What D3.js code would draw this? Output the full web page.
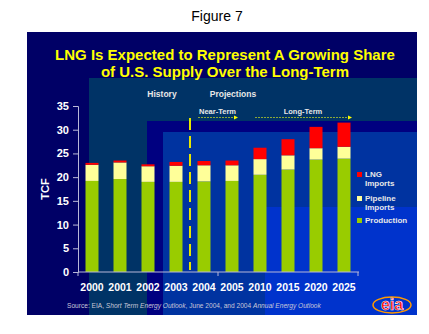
<!DOCTYPE html>
<html>
<head>
<meta charset="utf-8">
<script src="https://cdn.jsdelivr.net/npm/d3@7"></script>
<style>
  body { margin: 0; background: #fff; }
  svg { display: block; font-family: "Liberation Sans", Arial, sans-serif; }
</style>
</head>
<body>
<svg id="chart" width="429" height="334"></svg>
<script>
// chart data (TCF)
var years = ["2000", "2001", "2002", "2003", "2004", "2005", "2010", "2015", "2020", "2025"];
var production = [19.2, 19.6, 19.0, 19.0, 19.1, 19.2, 20.5, 21.6, 23.7, 23.9];
var pipelineImports = [3.4, 3.5, 3.3, 3.4, 3.4, 3.3, 3.3, 3.0, 2.4, 2.5];
var lngImports = [0.4, 0.4, 0.4, 0.8, 0.9, 1.0, 2.4, 3.4, 4.5, 5.1];
var yTicks = [0, 5, 10, 15, 20, 25, 30, 35];
var seriesKeys = ["production", "pipeline", "lng"];
var seriesColors = {production: "#99CC00", pipeline: "#FFFF99", lng: "#FF0000"};
var legendItems = [
  {key: "lng", lines: ["LNG", "Imports"]},
  {key: "pipeline", lines: ["Pipeline", "Imports"]},
  {key: "production", lines: ["Production"]}
];

var svg = d3.select("#chart");

// page caption
svg.append("text")
  .attr("x", 217).attr("y", 21)
  .attr("text-anchor", "middle")
  .attr("font-size", 14)
  .attr("fill", "#000")
  .text("Figure 7");

// slide background, layered rectangles
var bg = svg.append("g").attr("id", "background");
bg.append("rect").attr("x", 27).attr("y", 32).attr("width", 390).attr("height", 283).attr("fill", "#000066");
bg.append("rect").attr("x", 89).attr("y", 78).attr("width", 328).attr("height", 237).attr("fill", "#003366");
bg.append("rect").attr("x", 147).attr("y", 121).attr("width", 270).attr("height", 194).attr("fill", "#000080");
bg.append("rect").attr("x", 163).attr("y", 132).attr("width", 254).attr("height", 183).attr("fill", "#0033A0");
bg.append("rect").attr("x", 265).attr("y", 207).attr("width", 152).attr("height", 108).attr("fill", "#0033CC");

// title
var title = svg.append("text")
  .attr("text-anchor", "middle")
  .attr("font-size", 15)
  .attr("font-weight", "bold")
  .attr("fill", "#FFFF00");
title.append("tspan").attr("x", 225).attr("y", 60).text("LNG Is Expected to Represent A Growing Share");
title.append("tspan").attr("x", 225).attr("y", 77).text("of U.S. Supply Over the Long-Term");

// scales
var x = d3.scaleBand()
  .domain(years)
  .range([78, 358])
  .paddingInner(15 / 28)
  .paddingOuter(15 / 56);

var y = d3.scaleLinear()
  .domain([0, 35])
  .range([272, 106]);

var rows = years.map(function(yr, i) {
  return {year: yr, production: production[i], pipeline: pipelineImports[i], lng: lngImports[i]};
});
var stacked = d3.stack().keys(seriesKeys)(rows);

// bars
var barsG = svg.append("g").attr("id", "bars");
barsG.selectAll("g.series")
  .data(stacked)
  .enter().append("g")
  .attr("class", "series")
  .attr("fill", function(d) { return seriesColors[d.key]; })
  .selectAll("rect")
  .data(function(d) { return d; })
  .enter().append("rect")
  .attr("x", function(d) { return x(d.data.year); })
  .attr("y", function(d) { return y(d[1]); })
  .attr("width", x.bandwidth())
  .attr("height", function(d) { return y(d[0]) - y(d[1]); });

// history / projection divider
svg.append("line")
  .attr("x1", 190).attr("x2", 190)
  .attr("y1", 118).attr("y2", 270)
  .attr("stroke", "#E6E600")
  .attr("stroke-width", 2)
  .attr("stroke-dasharray", "12,6");

// y axis
var yAxis = svg.append("g")
  .attr("transform", "translate(78,0)")
  .call(d3.axisLeft(y).tickValues(yTicks).tickSize(5).tickPadding(4));
yAxis.select(".domain").attr("stroke", "#B8B8D8");
yAxis.selectAll(".tick line").attr("stroke", "#B8B8D8");
yAxis.selectAll(".tick text")
  .attr("fill", "#FFFFFF")
  .attr("font-size", 11)
  .attr("font-weight", "bold")
  .attr("font-family", "Liberation Sans, Arial, sans-serif");

// x axis: ticks only every 5 categories like the original
var xAxisG = svg.append("g").attr("id", "x_axis");
xAxisG.append("line")
  .attr("x1", 78).attr("x2", 359)
  .attr("y1", 272).attr("y2", 272)
  .attr("stroke", "#B8B8D8");
[0, 5, 10].forEach(function(k) {
  var px = 78 + k * x.step();
  xAxisG.append("line")
    .attr("x1", px).attr("x2", px)
    .attr("y1", 272).attr("y2", 276)
    .attr("stroke", "#B8B8D8");
});
xAxisG.selectAll("text.year")
  .data(years)
  .enter().append("text")
  .attr("class", "year")
  .attr("x", function(d) { return x(d) + x.bandwidth() / 2; })
  .attr("y", 291)
  .attr("text-anchor", "middle")
  .attr("font-size", 10.5)
  .attr("font-weight", "bold")
  .attr("fill", "#FFFFFF")
  .text(function(d) { return d; });

// y label
svg.append("text")
  .attr("transform", "translate(49,189) rotate(-90)")
  .attr("text-anchor", "middle")
  .attr("font-size", 11)
  .attr("font-weight", "bold")
  .attr("fill", "#FFFFFF")
  .text("TCF");

// period labels
svg.append("text")
  .attr("x", 162).attr("y", 97)
  .attr("text-anchor", "middle")
  .attr("font-size", 8.5)
  .attr("font-weight", "bold")
  .attr("fill", "#E8E8E8")
  .text("History");
svg.append("text")
  .attr("x", 233).attr("y", 97)
  .attr("text-anchor", "middle")
  .attr("font-size", 8.5)
  .attr("font-weight", "bold")
  .attr("fill", "#E8E8E8")
  .text("Projections");

// near-term / long-term arrows
var spans = [
  {label: "Near-Term", x1: 198, x2: 237},
  {label: "Long-Term", x1: 255, x2: 351}
];
var spanG = svg.append("g").attr("id", "spans");
spans.forEach(function(s) {
  spanG.append("text")
    .attr("x", (s.x1 + s.x2) / 2).attr("y", 114)
    .attr("text-anchor", "middle")
    .attr("font-size", 7.5)
    .attr("font-weight", "bold")
    .attr("fill", "#E8E8E8")
    .text(s.label);
  spanG.append("line")
    .attr("x1", s.x1).attr("x2", s.x2 - 2)
    .attr("y1", 117.5).attr("y2", 117.5)
    .attr("stroke", "#8AA838")
    .attr("stroke-width", 1)
    .attr("stroke-dasharray", "2,1");
  spanG.append("path")
    .attr("d", "M" + (s.x2 - 3) + ",115.5 L" + (s.x2 + 1) + ",117.5 L" + (s.x2 - 3) + ",119.5 Z")
    .attr("fill", "#FFFF00");
});

// legend
var legend = svg.append("g").attr("id", "legend");
var legendY = [172, 196, 218];
legendItems.forEach(function(item, i) {
  legend.append("rect")
    .attr("x", 357).attr("y", legendY[i])
    .attr("width", 5).attr("height", 5)
    .attr("fill", seriesColors[item.key]);
  item.lines.forEach(function(line, j) {
    legend.append("text")
      .attr("x", 365).attr("y", legendY[i] + 5 + j * 9)
      .attr("font-size", 8)
      .attr("font-weight", "bold")
      .attr("fill", "#E8E8E8")
      .text(line);
  });
});

// source note
var src = svg.append("text")
  .attr("x", 67).attr("y", 308)
  .attr("font-size", 6.6)
  .attr("fill", "#C8C8D8");
src.append("tspan").text("Source: EIA, ");
src.append("tspan").attr("font-style", "italic").text("Short Term Energy Outlook");
src.append("tspan").text(", June 2004, and 2004 ");
src.append("tspan").attr("font-style", "italic").text("Annual Energy Outlook");

// eia logo
var logo = svg.append("g").attr("transform", "translate(392,305)");
logo.append("ellipse")
  .attr("rx", 19).attr("ry", 8)
  .attr("fill", "none")
  .attr("stroke", "#FF9900")
  .attr("stroke-width", 1.5);
logo.append("text")
  .attr("x", 0).attr("y", 5)
  .attr("text-anchor", "middle")
  .attr("font-size", 16)
  .attr("font-weight", "bold")
  .attr("fill", "#FF0000")
  .attr("stroke", "#FFFFFF")
  .attr("stroke-width", 0.6)
  .text("eia");
</script>
</body>
</html>
